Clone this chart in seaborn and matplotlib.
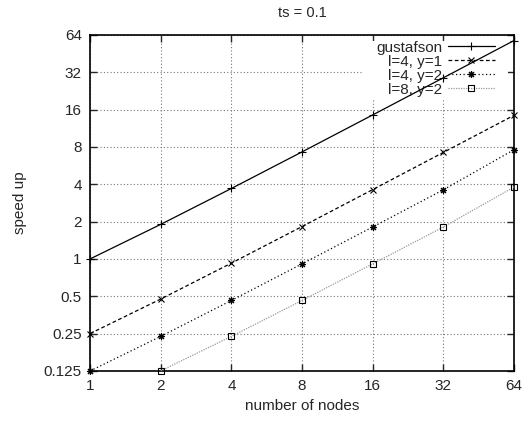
#!/usr/bin/env python3

import matplotlib
matplotlib.use('Agg')
import matplotlib.pyplot as plt
from matplotlib.patches import Rectangle
import seaborn as sns
import numpy as np
import pandas as pd

#-----------
# DATA
#-----------
nodes = [1, 2, 4, 8, 16, 32, 64]
gustafson = [1.0, 1.9, 3.7, 7.3, 14.5, 28.9, 57.7]
l4_y1 = [0.25, 0.475, 0.925, 1.825, 3.625, 7.225, 14.4]
l4_y2 = [0.125, 0.2375, 0.4625, 0.9125, 1.81, 3.61, 7.6]
# l=8, y=2 starts at 2 nodes (1 node is below the plot)
nodes_l8 = [2, 4, 8, 16, 32, 64]
l8_y2 = [0.125, 0.2375, 0.4625, 0.9125, 1.81, 3.8]

y_ticks = [0.125, 0.25, 0.5, 1, 2, 4, 8, 16, 32, 64]
y_tick_labels = ['0.125', '0.25', '0.5', '1', '2', '4', '8', '16', '32', '64']
x_ticks = nodes
x_tick_labels = [str(n) for n in nodes]

#-----------
# PLOT
#-----------
sns.set_style('ticks')
plt.rcParams['font.family'] = ['Liberation Sans', 'DejaVu Sans']
plt.rcParams['font.size'] = 11

fig = plt.figure(figsize=(5.24, 4.21), dpi=100)
ax = fig.add_axes([0.172, 0.119, 0.809, 0.798])

series = [
  ('gustafson', nodes, gustafson, dict(color='black', linestyle='-', marker='+', markersize=6)),
  ('l=4, y=1', nodes, l4_y1, dict(color='black', linestyle=(0, (3, 2)), marker='x', markersize=5)),
  ('l=4, y=2', nodes, l4_y2, dict(color='black', linestyle=(0, (1, 2)), marker=(8, 2, 0), markersize=5)),
  ('l=8, y=2', nodes_l8, l8_y2, dict(color='#999999', linestyle=(0, (1, 1)), marker='s', markersize=5,
                                    markerfacecolor='none')),
]

for name, xs, ys, style in series:
  df = pd.DataFrame({'nodes': xs, 'speedup': ys})
  sns.lineplot(data=df, x='nodes', y='speedup', ax=ax, label=name, linewidth=0.9,
               markeredgewidth=0.8, markeredgecolor='black', clip_on=False, zorder=3, **style)

ax.set_xscale('log', base=2)
ax.set_yscale('log', base=2)
ax.set_xlim(1, 64)
ax.set_ylim(0.125, 64)
ax.set_xticks(x_ticks)
ax.set_xticklabels(x_tick_labels)
ax.set_yticks(y_ticks)
ax.set_yticklabels(y_tick_labels)
ax.minorticks_off()

ax.tick_params(direction='in', length=5, width=1, top=True, right=True, labelsize=11, pad=6)
ax.grid(True, which='major', color='#777777', linestyle=(0, (1, 2)), linewidth=0.8)
ax.set_axisbelow(True)
for s in ax.spines.values():
  s.set_linewidth(1.2)
  s.set_color('black')

# key area hides the grid (like gnuplot), but not the border ticks
ax.add_patch(Rectangle((0.642, 0.805), 0.343, 0.178, transform=ax.transAxes,
                       facecolor='white', edgecolor='none', zorder=0.9))

ax.set_title('ts = 0.1', fontsize=10.5, pad=13)
ax.set_xlabel('number of nodes', fontsize=11, labelpad=4)
ax.set_ylabel('speed up', fontsize=11)
ax.yaxis.set_label_coords(-0.165, 0.5)
ax.yaxis.label.set_verticalalignment('center')

leg = ax.legend(loc='upper right', bbox_to_anchor=(0.962, 0.992), borderaxespad=0, markerfirst=False,
                frameon=False, handlelength=3.1, handletextpad=0.35, labelspacing=0.0,
                borderpad=0.2, fontsize=11)
leg.set_zorder(1)

fig.savefig('out.png', dpi=100)
